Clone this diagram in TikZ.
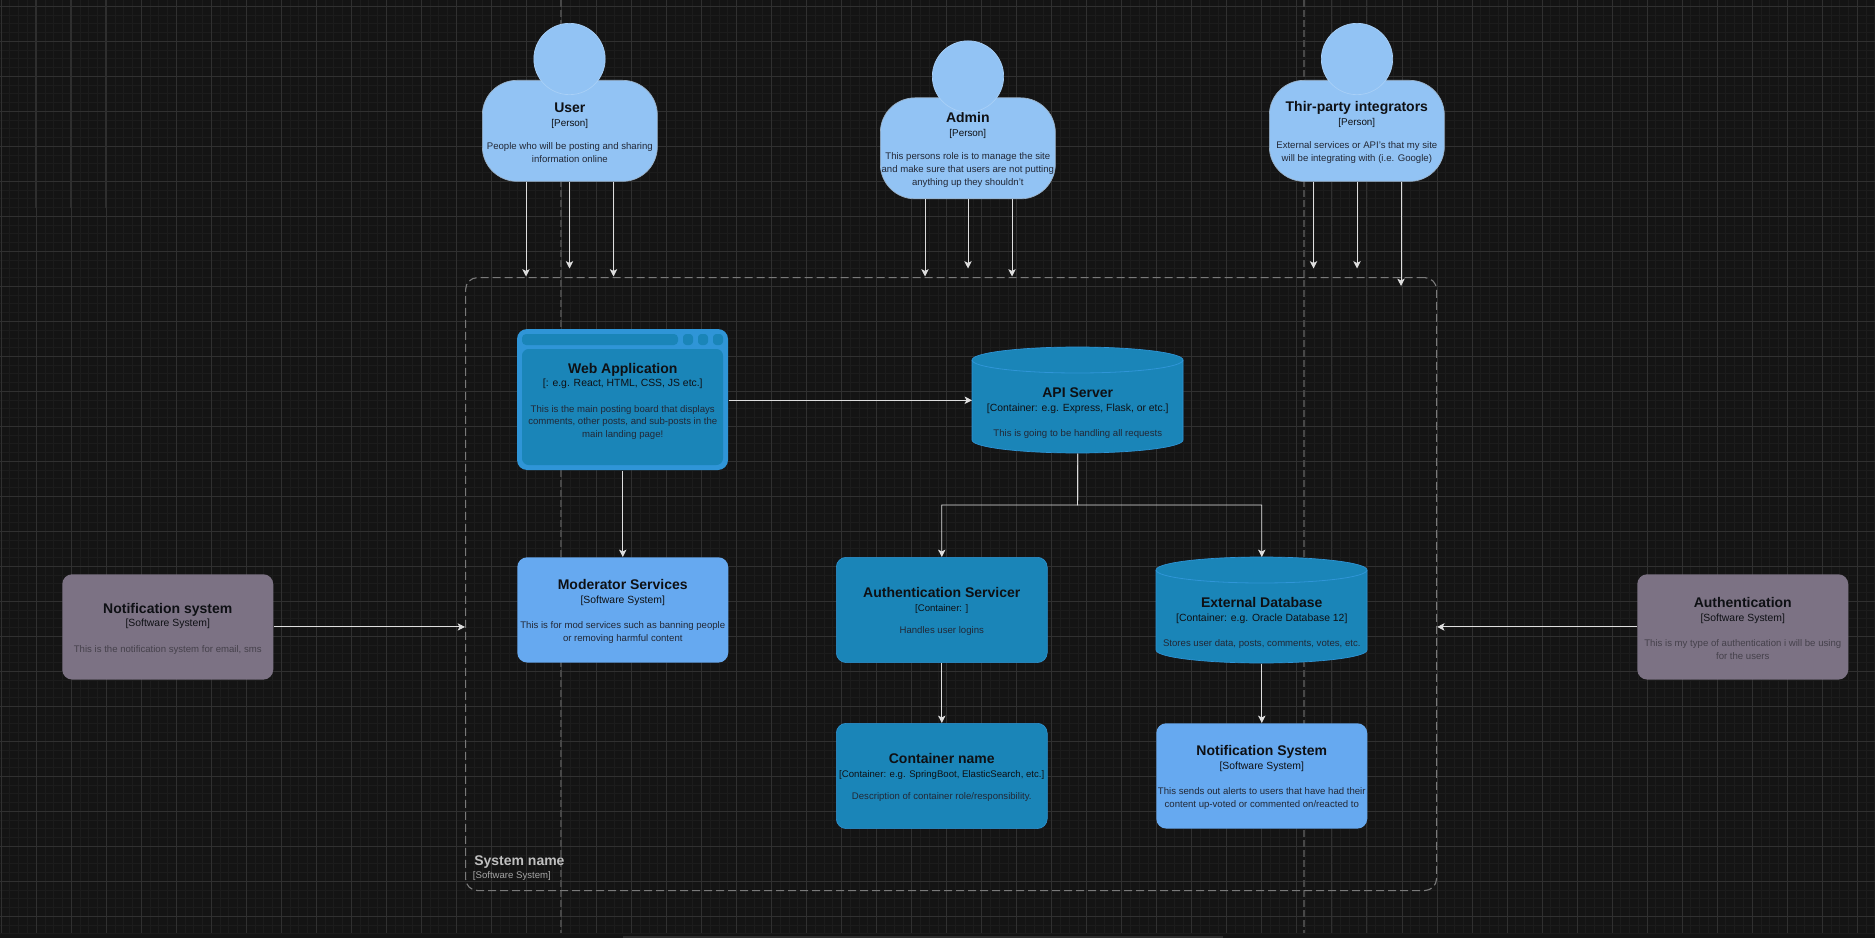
\documentclass[tikz,border=0pt]{standalone}
\usepackage{fontspec}
\setmainfont{Liberation Sans}
\definecolor{bg}{HTML}{141414}
\definecolor{gmin}{HTML}{1C1C1C}
\definecolor{gmaj}{HTML}{303030}
\definecolor{gbold}{HTML}{2E2E2E}
\definecolor{person}{HTML}{92C3F4}
\definecolor{personedge}{HTML}{A9D0F7}
\definecolor{cont}{HTML}{1A85B8}
\definecolor{contlt}{HTML}{2F95D7}
\definecolor{softw}{HTML}{66A9F0}
\definecolor{extsys}{HTML}{7C7284}
\definecolor{ttl}{HTML}{0E1014}
\definecolor{dsc}{HTML}{222836}
\definecolor{dscext}{HTML}{45414B}
\definecolor{wire}{HTML}{DEDEDE}
\definecolor{bound}{HTML}{7A7A7A}
\definecolor{guide}{HTML}{474747}
\usetikzlibrary{arrows.meta,calc}
% #1 gap before the description, #2 size of the subtitle, #3 title, #4 subtitle, #5 description
\newcommand{\cardbase}[5]{%
  \fontsize{10.5pt}{13pt}\selectfont\bfseries\color{ttl}\rule{0pt}{10pt}#3\par
  \fontsize{#2}{10.3pt}\selectfont\mdseries #4\par
  \vspace{#1}\color{dsc}\fontsize{7.2pt}{9.5pt}\selectfont #5\par}
\newcommand{\cardtext}[3]{\cardbase{9.5pt}{7.8pt}{#1}{#2}{#3}}
\newcommand{\conttext}[3]{\cardbase{7.5pt}{7.2pt}{#1}{#2}{#3}}
\newcommand{\persontext}[2]{\cardbase{8pt}{7.4pt}{#1}{[Person]}{#2}}
\newcommand{\dbfill}[2]{%
  \filldraw[fill=cont,draw=contlt,line width=.5pt] (#1,#2+13) arc[start angle=180,end angle=0,x radius=79.125pt,y radius=9.75pt] -- ++(0,80) arc[start angle=0,end angle=-180,x radius=79.125pt,y radius=9.75pt] -- cycle;
  \draw[contlt,line width=.6pt] (#1,#2+13) arc[start angle=180,end angle=360,x radius=79.125pt,y radius=9.75pt];}
\tikzset{
  cardtxt/.style={inner sep=0pt,align=flush center,text width=158pt},
  card/.style={cardtxt,rounded corners=7.5pt,minimum width=158.25pt,minimum height=79pt,anchor=north west},
  softbox/.style={card,fill=softw},
  contbox/.style={card,fill=cont,draw=contlt,line width=.4pt},
  extbox/.style={card,fill=extsys},
  webbox/.style={card,minimum height=105.75pt},
  dbbox/.style={card,rounded corners=0pt,minimum height=79.5pt},
  personbody/.style={rounded corners=26pt,fill=person,draw=personedge!60!gray,line width=.5pt,minimum width=131.25pt,minimum height=75.75pt,inner sep=0pt,align=flush center,text width=131pt,anchor=north west},
  personhead/.style={circle,fill=person,draw=personedge,line width=.5pt,minimum size=53.5pt,inner sep=0pt},
  wirearrow/.style={draw=wire,line width=.7pt,-{Stealth[length=5.5pt,width=5.5pt,inset=1.3pt]}},
}
\begin{document}
\begin{tikzpicture}[x=0.75pt,y=-0.75pt]
\useasboundingbox (0,0) rectangle (1875,938);
\fill[bg] (0,0) rectangle (1875,938);
% grid
\foreach \i in {0,...,214}{\draw[gmin,line width=.55pt] ({\i*8.755+1.1},0) -- ({\i*8.755+1.1},933);}
\foreach \i in {0,...,106}{\draw[gmin,line width=.55pt] (0,{\i*8.75+6.3}) -- (1875,{\i*8.75+6.3});}
\foreach \i in {0,...,53}{\draw[gmaj,line width=.6pt] ({\i*35.02+1.1},0) -- ({\i*35.02+1.1},933);}
\foreach \i in {0,...,26}{\draw[gmaj,line width=.6pt] (0,{\i*35+6.3}) -- (1875,{\i*35+6.3});}
\foreach \x in {35.7,70.7,106}{\draw[gbold,line width=1.2pt] (\x,0) -- (\x,208);}
\fill[gbold] (623,936) rectangle (1223,938);
% dashed vertical guides
\foreach \x in {561,1304}{\draw[guide,line width=.8pt,dash pattern=on 5pt off 2.5pt] (\x,0) -- (\x,933);}
% boundary
\node[draw=bound,line width=.85pt,dash pattern=on 6pt off 3pt,rounded corners=9pt,minimum width=728.25pt,minimum height=459.75pt,inner sep=0pt,anchor=north west] (boundary) at (465,277) {};
\node[anchor=south west,inner sep=0pt,align=flush left,text width=120pt] (bname) at (474,881) {\fontsize{10.5pt}{12pt}\selectfont\bfseries\color{white!75!black}System name\par\fontsize{7.2pt}{9.8pt}\selectfont\mdseries\color{white!65!black}\hspace*{-1pt}[Software System]\par};
% people
\node[personbody] (user) at (482,80) {\persontext{User}{People who will be posting and sharing\\information online}};
\node[personhead] (userh) at (569.5,59) {};
\node[personbody] (admin) at (880,97.5) {\persontext{Admin}{This persons role is to manage the site\\and make sure that users are not putting\\anything up they shouldn't}};
\node[personhead] (adminh) at (968,76.5) {};
\node[personbody] (third) at (1269,80) {\persontext{Thir-party integrators}{External services or API's that my site\\will be integrating with (i.e. Google)}};
\node[personhead] (thirdh) at (1357,59) {};
% web application
\fill[contlt,rounded corners=7.5pt] (517,329) rectangle (728,470);
\fill[cont,rounded corners=3pt] (522,334) rectangle (678,345);
\foreach \x in {683,698,713}{\fill[cont,rounded corners=2.5pt] (\x,334) rectangle ++(10,11);}
\fill[cont,rounded corners=5pt] (522,349) rectangle (723,465);
\node[webbox] (web) at (517,329) {\cardtext{Web Application}{[: e.g. React, HTML, CSS, JS etc.]}{This is the main posting board that displays\\comments, other posts, and sub-posts in the\\main landing page!}};
% databases
\dbfill{972}{347}
\node[dbbox] (api) at (972,347) {};
\node[cardtxt] (apit) at ($(api.center)+(0,11)$) {\cardtext{API Server}{[Container: e.g. Express, Flask, or etc.]}{This is going to be handling all requests}};
\dbfill{1156}{557}
\node[dbbox] (ext) at (1156,557) {};
\node[cardtxt] (extt) at ($(ext.center)+(0,11)$) {\cardtext{External Database}{[Container: e.g. Oracle Database 12]}{Stores user data, posts, comments, votes, etc.}};
% boxes
\node[softbox] (mod) at (517,557) {\cardtext{Moderator Services}{[Software System]}{This is for mod services such as banning people\\or removing harmful content}};
\node[contbox] (auth) at (836,557) {\conttext{Authentication Servicer}{[Container: ]}{Handles user logins}};
\node[contbox] (cname) at (836,723) {\conttext{Container name}{[Container: e.g. SpringBoot, ElasticSearch, etc.]}{Description of container role/responsibility.}};
\node[softbox] (nsys) at (1156,723) {\cardtext{Notification System}{[Software System]}{This sends out alerts to users that have had their\\content up-voted or commented on/reacted to}};
\node[extbox] (notif) at (62,574) {\cardtext{Notification system}{[Software System]}{\color{dscext}This is the notification system for email, sms}};
\node[extbox] (authx) at (1637,574) {\cardtext{Authentication}{[Software System]}{\color{dscext}This is my type of authentication i will be using\\for the users}};
% free ends
\coordinate (u1) at (526,276.5); \coordinate (u2) at (569.5,268.5); \coordinate (u3) at (613.5,276.5);
\coordinate (a1) at (925,276.5); \coordinate (a2) at (968,268.5); \coordinate (a3) at (1012,276.5);
\coordinate (t1) at (1313.5,268.5); \coordinate (t2) at (1357,268.5); \coordinate (t3) at (1401,286);
\coordinate (bus) at (1077.5,505);
% connectors
\foreach \c in {u1,u2,u3}{\draw[wirearrow] (user.south -| \c) -- (\c);}
\foreach \c in {a1,a2,a3}{\draw[wirearrow] (admin.south -| \c) -- (\c);}
\foreach \c in {t1,t2,t3}{\draw[wirearrow] (third.south -| \c) -- (\c);}
\draw[wirearrow] (web.east |- api.west) -- (api.west);
\draw[wirearrow] (web.south) -- (mod.north);
\draw[wirearrow] (api.south) -- (bus) -| (auth.north);
\draw[wirearrow] (api.south) -- (bus) -| (ext.north);
\draw[wirearrow] (auth.south) -- (cname.north);
\draw[wirearrow] (ext.south) -- (nsys.north);
\draw[wirearrow] (notif.east) -- (notif.east -| boundary.west);
\draw[wirearrow] (authx.west) -- (authx.west -| boundary.east);
\end{tikzpicture}
\end{document}
